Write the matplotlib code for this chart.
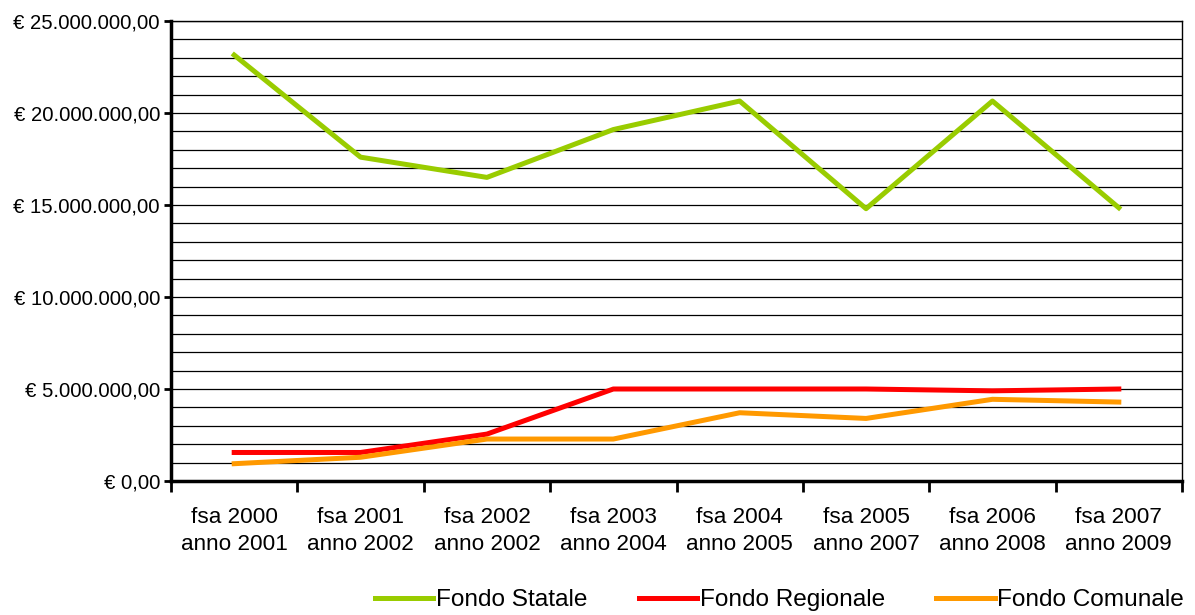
import matplotlib
matplotlib.use("Agg")
import matplotlib.pyplot as plt
import numpy as np
from matplotlib.ticker import FuncFormatter, MultipleLocator, FixedLocator

plt.rcParams["font.family"] = ["Liberation Sans", "DejaVu Sans"]

# data
categories = ["fsa 2000\nanno 2001", "fsa 2001\nanno 2002", "fsa 2002\nanno 2002",
              "fsa 2003\nanno 2004", "fsa 2004\nanno 2005", "fsa 2005\nanno 2007",
              "fsa 2006\nanno 2008", "fsa 2007\nanno 2009"]
fondo_statale = [23150000, 17600000, 16500000, 19100000, 20650000, 14800000, 20650000, 14850000]
fondo_regionale = [1550000, 1550000, 2550000, 5000000, 5000000, 5000000, 4900000, 5000000]
fondo_comunale = [940000, 1290000, 2280000, 2280000, 3710000, 3400000, 4440000, 4290000]


def euro_fmt(v, pos):
    s = f"{v:,.2f}"  # 25,000,000.00
    s = s.replace(",", "X").replace(".", ",").replace("X", ".")
    return "€ " + s


fig = plt.figure(figsize=(11.95, 6.15), dpi=100)
ax = fig.add_axes([171 / 1195, 1 - 481 / 615, (1182 - 171) / 1195, (481 - 21) / 615])

x = np.arange(len(categories))
ax.plot(x, fondo_statale, color="#99CC00", lw=3.6, label="Fondo Statale", zorder=3)
ax.plot(x, fondo_regionale, color="#FF0000", lw=3.6, label="Fondo Regionale", zorder=3)
ax.plot(x, fondo_comunale, color="#FF9900", lw=3.6, label="Fondo Comunale", zorder=3)

ax.set_xlim(-0.5, len(categories) - 0.5)
ax.set_ylim(0, 25000000)

# y axis
ax.yaxis.set_major_locator(MultipleLocator(5000000))
ax.yaxis.set_minor_locator(MultipleLocator(1000000))
ax.yaxis.set_major_formatter(FuncFormatter(euro_fmt))
ax.grid(True, axis="y", which="both", color="black", lw=0.9)
ax.tick_params(axis="y", which="major", direction="out", length=5, width=2,
               labelsize=14.6, pad=3)
ax.tick_params(axis="y", which="minor", length=0)

# x axis: ticks between categories, labels at centres
ax.xaxis.set_major_locator(FixedLocator(np.arange(len(categories) + 1) - 0.5))
ax.xaxis.set_major_formatter(FuncFormatter(lambda v, p: ""))
ax.xaxis.set_minor_locator(FixedLocator(x))
ax.set_xticklabels(categories, minor=True)
ax.tick_params(axis="x", which="major", direction="out", length=8, width=2)
ax.tick_params(axis="x", which="minor", length=0, labelsize=16.2, pad=19)
for lbl in ax.get_xticklabels(minor=True):
    lbl.set_linespacing(1.35)

ax.spines["left"].set_linewidth(2.5)
ax.spines["bottom"].set_linewidth(2.5)
ax.spines["top"].set_linewidth(1)
ax.spines["right"].set_linewidth(1)
ax.set_axisbelow(True)

fig.legend(loc="center right", bbox_to_anchor=(1184 / 1195, 1 - 600 / 615), ncol=3,
           frameon=False, fontsize=17.6, handlelength=2.4, handletextpad=0.1,
           columnspacing=2.1, borderaxespad=0, borderpad=0)

fig.savefig("out.png", dpi=100)
